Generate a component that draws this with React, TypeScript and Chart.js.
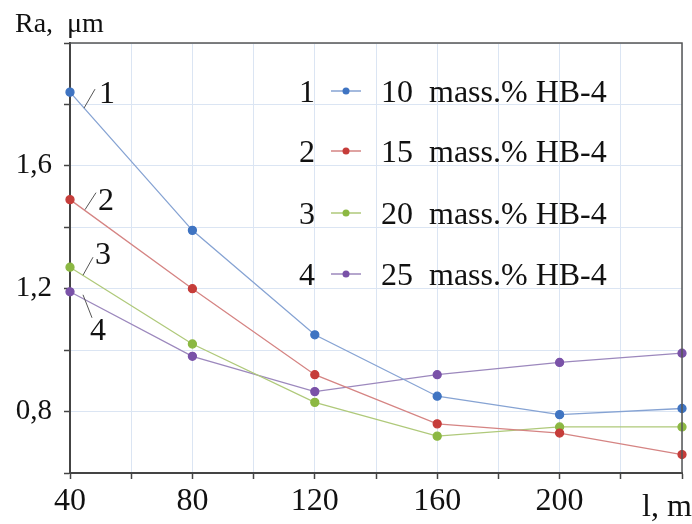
import React, { useEffect, useRef } from "react";
import { Chart, registerables } from "chart.js";

Chart.register(...registerables);

const distances = [40, 80, 120, 160, 200, 240];
const series1 = [1.84, 1.39, 1.05, 0.85, 0.79, 0.81];
const series2 = [1.49, 1.2, 0.92, 0.76, 0.73, 0.66];
const series3 = [1.27, 1.02, 0.83, 0.72, 0.75, 0.75];
const series4 = [1.19, 0.98, 0.865, 0.92, 0.96, 0.99];
const seriesNames = ["10  mass.% HB-4", "15  mass.% HB-4", "20  mass.% HB-4", "25  mass.% HB-4"];
const seriesNumbers = ["1", "2", "3", "4"];
const xTickLabels = ["40", "80", "120", "160", "200"];
const yTickLabels = ["0,8", "1,2", "1,6"];
const yTickValues = [0.8, 1.2, 1.6];
const yTitle = "Ra,  μm";
const xTitle = "l, m";

const lineColors = ["#86a3d3", "#d58483", "#afc97a", "#9c88bd"];
const pointColors = ["#3f74c2", "#c63d3a", "#8cb843", "#7a52a8"];

const FONT = "'Liberation Serif', 'Times New Roman', serif";

// pixel offsets of the curve labels from each curve's first point
const labelOffsets = [
  { l1: [14, 16], l2: [25, -3], t: [29, 11] },
  { l1: [15, 10], l2: [26, -7], t: [28, 10] },
  { l1: [13, 8], l2: [23, -10], t: [25, -3] },
  { l1: [13, 3], l2: [22, 26], t: [20, 48] },
];

const overlayPlugin = {
  id: "overlay",
  afterDraw(chart: any) {
    const { ctx, chartArea, scales } = chart;
    const xs = scales.x;
    const ys = scales.y;
    ctx.save();
    // box top & right
    ctx.strokeStyle = "#555";
    ctx.lineWidth = 1.5;
    ctx.beginPath();
    ctx.moveTo(chartArea.left, chartArea.top);
    ctx.lineTo(chartArea.right, chartArea.top);
    ctx.lineTo(chartArea.right, chartArea.bottom);
    ctx.stroke();

    // title
    ctx.fillStyle = "#111";
    ctx.font = `28px ${FONT}`;
    ctx.textAlign = "left";
    ctx.textBaseline = "alphabetic";
    ctx.fillText(yTitle, 15, 32);

    // x title at last tick
    ctx.font = `32px ${FONT}`;
    ctx.textAlign = "center";
    ctx.fillText(xTitle, xs.getPixelForValue(distances[distances.length - 1]) - 15, 516);

    // curve labels
    const all = [series1, series2, series3, series4];
    all.forEach((s, i) => {
      const px = xs.getPixelForValue(distances[0]);
      const py = ys.getPixelForValue(s[0]);
      const o = labelOffsets[i];
      ctx.strokeStyle = "#555";
      ctx.lineWidth = 1;
      ctx.beginPath();
      ctx.moveTo(px + o.l1[0], py + o.l1[1]);
      ctx.lineTo(px + o.l2[0], py + o.l2[1]);
      ctx.stroke();
      ctx.fillStyle = "#111";
      ctx.font = `32px ${FONT}`;
      ctx.textAlign = "left";
      ctx.fillText(seriesNumbers[i], px + o.t[0], py + o.t[1]);
    });

    // legend
    const rowY = [91, 151, 213, 274];
    seriesNames.forEach((name, i) => {
      const y = rowY[i];
      ctx.fillStyle = "#111";
      ctx.font = `32px ${FONT}`;
      ctx.textAlign = "left";
      ctx.fillText(seriesNumbers[i], 299, y + 11);
      ctx.strokeStyle = lineColors[i];
      ctx.lineWidth = 1.5;
      ctx.beginPath();
      ctx.moveTo(331, y);
      ctx.lineTo(361, y);
      ctx.stroke();
      ctx.fillStyle = pointColors[i];
      ctx.beginPath();
      ctx.arc(346, y, 3.5, 0, Math.PI * 2);
      ctx.fill();
      ctx.fillStyle = "#111";
      ctx.fillText(name, 381, y + 11);
    });
    ctx.restore();
  },
};

export default function App() {
  const ref = useRef<HTMLCanvasElement>(null);
  useEffect(() => {
    if (!ref.current) return;
    const all = [series1, series2, series3, series4];
    const chart = new Chart(ref.current, {
      type: "line",
      data: {
        datasets: all.map((s, i) => ({
          label: seriesNames[i],
          data: s.map((v, j) => ({ x: distances[j], y: v })),
          borderColor: lineColors[i],
          backgroundColor: pointColors[i],
          pointBackgroundColor: pointColors[i],
          pointBorderColor: pointColors[i],
          pointRadius: 4,
          borderWidth: 1.3,
          tension: 0,
          clip: false as any,
        })),
      },
      options: {
        animation: false,
        responsive: true,
        maintainAspectRatio: false,
        layout: { padding: { left: 0, right: 10, top: 43, bottom: 0 } },
        plugins: { legend: { display: false }, tooltip: { enabled: false } },
        scales: {
          x: {
            type: "linear",
            min: 40,
            max: 240,
            afterFit: (s: any) => {
              s.height = 51;
            },
            ticks: {
              stepSize: 20,
              autoSkip: false,
              maxRotation: 0,
              padding: 3,
              color: "#111",
              font: { family: FONT, size: 32 },
              callback: (v: any) => {
                const idx = distances.indexOf(Number(v));
                return idx >= 0 && idx < xTickLabels.length ? xTickLabels[idx] : "";
              },
            },
            grid: {
              color: "#dbe5f3",
              lineWidth: 1,
              tickColor: "#444",
              tickLength: 6,
              tickWidth: 1.5,
            },
            border: { color: "#444", width: 2 },
          },
          y: {
            min: 0.6,
            max: 2.0,
            afterFit: (s: any) => {
              s.width = 70;
            },
            ticks: {
              stepSize: 0.2,
              autoSkip: false,
              padding: 12,
              color: "#111",
              font: { family: FONT, size: 29 },
              callback: (v: any) => {
                const idx = yTickValues.findIndex((t) => Math.abs(t - Number(v)) < 1e-6);
                return idx >= 0 ? yTickLabels[idx] : "";
              },
            },
            grid: {
              color: "#dbe5f3",
              lineWidth: 1,
              tickColor: "#444",
              tickLength: 6,
              tickWidth: 1.5,
            },
            border: { color: "#444", width: 2 },
          },
        },
      },
      plugins: [overlayPlugin],
    });
    return () => chart.destroy();
  }, []);
  return (
    <div style={{ position: "fixed", left: 0, top: 0, width: 692, height: 524, background: "#fff" }}>
      <canvas ref={ref} />
    </div>
  );
}
